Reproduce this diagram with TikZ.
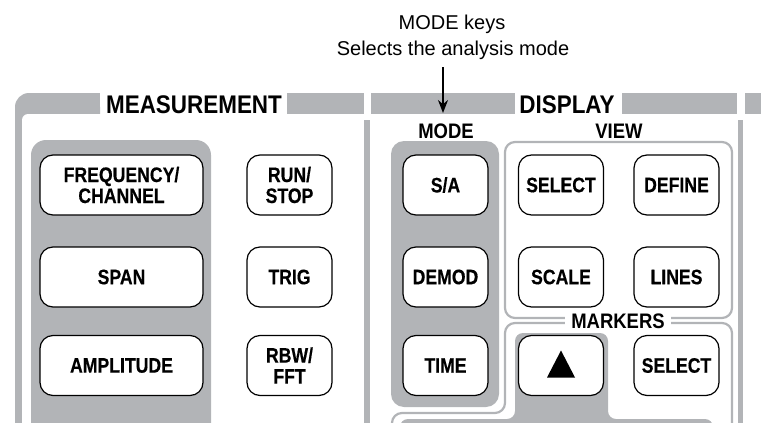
\documentclass[tikz,border=0pt]{standalone}
\usepackage{fontspec}
\setmainfont{Liberation Sans}
\newfontfamily\keyfont[FakeStretch=0.84,FakeBold=0.4]{Liberation Sans}
\newfontfamily\headfont[FakeStretch=0.88]{Liberation Sans}
\usetikzlibrary{arrows.meta}
\definecolor{panelgray}{RGB}{178,180,183}

\begin{document}
\begin{tikzpicture}[x=1pt,y=-1pt,
  button/.style={draw=black, line width=1.2pt, fill=white, rounded corners=13pt, minimum height=60pt, inner sep=0pt, align=center, font=\keyfont\bfseries\fontsize{21}{21}\selectfont},
  widebutton/.style={button, minimum width=163pt},
  narrowbutton/.style={button, minimum width=85pt},
  heading/.style={anchor=base, inner sep=0pt, font=\headfont\bfseries\fontsize{25.5}{26}\selectfont},
  grouplabel/.style={anchor=base, font=\headfont\bfseries\fontsize{21}{22}\selectfont},
  groupline/.style={draw=panelgray, line width=2.2pt, rounded corners=10pt},
  notetext/.style={anchor=base, inner sep=2pt, font=\fontsize{20}{24}\selectfont},
  pointer/.style={-{Stealth[length=13pt,width=10pt]}, line width=1.5pt}]
\useasboundingbox (0,0) rectangle (761,423);
\clip (0,0) rectangle (761,423);
\fill[panelgray, rounded corners=14pt] (15,93) rectangle (100,440);
\fill[panelgray] (60,93) rectangle (100,114);
\fill[white, rounded corners=6pt] (22,114) rectangle (140,440);
\fill[panelgray] (287,93) rectangle (364,114);
\fill[panelgray] (371,93) rectangle (515,114);
\fill[panelgray] (622,93) rectangle (737,114);
\fill[panelgray] (745,93) rectangle (765,114);
\fill[panelgray] (364,120) rectangle (370,430);
\fill[panelgray] (738,120) rectangle (743,430);
\node[heading] (meas) at (194,113) {MEASUREMENT};
\node[heading] (disp) at (567,113) {DISPLAY};
\fill[panelgray, rounded corners=15pt] (31,140) rectangle (211,440);
\fill[panelgray, rounded corners=13pt] (391,141) rectangle (499,407);
\draw[groupline] (505,142) rectangle (732,318);
\draw[groupline] (392,440) -- (392,413) -- (505,413) -- (505,323) -- (732,323) -- (732,440);
\fill[panelgray, rounded corners=8pt] (400,440) -- (400,419) -- (515,419) -- (515,333) -- (608,333) -- (608,419) -- (713,419) -- (713,440) -- cycle;
\node[grouplabel] (modelbl) at (446,138.5) {MODE};
\node[grouplabel] (viewlbl) at (619,138.5) {VIEW};
\node[grouplabel, fill=white, inner xsep=6pt] (mklbl) at (618,328) {MARKERS};
\node[widebutton] (freq) at (121.5,185) {FREQUENCY/\\CHANNEL};
\node[widebutton] (span) at (121.5,277) {SPAN};
\node[widebutton] (ampl) at (121.5,365.5) {AMPLITUDE};
\node[narrowbutton] (run) at (289.5,185) {RUN/\\STOP};
\node[narrowbutton] (trig) at (289.5,277) {TRIG};
\node[narrowbutton] (rbw) at (289.5,365.5) {RBW/\\FFT};
\node[narrowbutton] (sa) at (445.5,185) {S/A};
\node[narrowbutton] (demod) at (445.5,277) {DEMOD};
\node[narrowbutton] (time) at (445.5,365.5) {TIME};
\node[narrowbutton] (vsel) at (561,185) {SELECT};
\node[narrowbutton] (vdef) at (676.5,185) {DEFINE};
\node[narrowbutton] (vscale) at (561,277) {SCALE};
\node[narrowbutton] (vlines) at (676.5,277) {LINES};
\node[narrowbutton] (mkup) at (561,365.5) {};
\node[narrowbutton] (mksel) at (676.5,365.5) {SELECT};
\fill ([shift={(-14,12)}]mkup.center) -- ++(28,0) -- ++(-14,-27) -- cycle;
\node[notetext] (note1) at (452,30) {MODE keys};
\node[notetext] (note2) at (453,55) {Selects the analysis mode};
\coordinate (modetip) at (443,113);
\draw[pointer] (note2.south -| modetip) ++(0,6) -- (modetip);
\end{tikzpicture}
\end{document}
